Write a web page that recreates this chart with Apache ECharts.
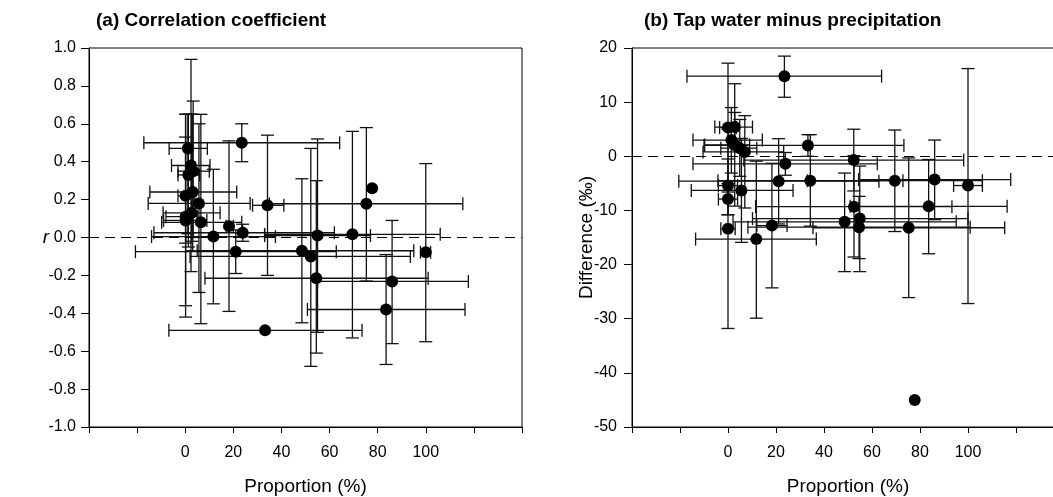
<!DOCTYPE html>
<html>
<head>
<meta charset="utf-8">
<script src="https://cdn.jsdelivr.net/npm/echarts@6/dist/echarts.min.js"></script>
<style>
  html, body { margin: 0; padding: 0; background: #fff; }
  #main { width: 1053px; height: 497px; }
</style>
</head>
<body>
<div id="main"></div>
<script>
// (a) correlation coefficient vs proportion
const leftProp = [1.1, 23.5, 2.4, 1.3, 3.3, 0.15, 3.1, 5.7, 0.15, 0.15, 2.7, 6.5, 11.7, 18.2, 23.9, 34.2, 21, 33.2, 48.5, 52.2, 55, 54.5, 69.5, 86, 83.5, 100, 75.3, 77.7];
const leftPropLo = [-6.7, -17.2, -5.7, -3, -3, -3, -14.7, -15.4, -8, -9, -9.2, -9.8, -14, 17, -13, 28, -20.7, -6.8, 5, 2, 33, 8.2, 33, 55, 50.8, 97.8, 35, 77.7];
const leftPropHi = [9.2, 64.2, 10.3, 6, 10, 4, 21.4, 27, 5, 9, 14.5, 23.5, 37.5, 20, 62, 41, 62.8, 73.5, 95, 93.6, 77, 101, 106, 117.7, 116.3, 102, 115.4, 77.7];
const rValue = [0.47, 0.50, 0.38, 0.33, 0.35, 0.22, 0.24, 0.18, 0.11, 0.09, 0.13, 0.08, 0.005, 0.06, 0.025, 0.17, -0.075, -0.49, -0.07, -0.10, 0.01, -0.215, 0.017, -0.232, -0.38, -0.078, 0.178, 0.26];
const rLo = [0.02, 0.40, -0.18, -0.05, 0.0, -0.36, -0.07, -0.29, -0.42, -0.03, -0.02, -0.455, -0.35, -0.39, -0.02, -0.20, -0.19, -0.49, -0.45, -0.68, -0.50, -0.61, -0.53, -0.56, -0.67, -0.55, -0.23, 0.26];
const rHi = [0.65, 0.60, 0.94, 0.65, 0.72, 0.65, 0.65, 0.60, 0.53, 0.65, 0.65, 0.65, 0.36, 0.51, 0.07, 0.54, 0.04, -0.49, 0.31, 0.47, 0.52, 0.30, 0.56, 0.09, -0.09, 0.39, 0.58, 0.26];

// (b) tap water minus precipitation vs proportion
const rightProp = [23.5, 0, 2.8, 1.4, 2.8, 4.9, 7, 33.3, 23.9, 52.4, 0, 5.6, 21.1, 34.3, 0, 52.5, 48.6, 54.9, 54.6, 18.3, 0, 11.8, 69.5, 86.1, 100, 83.6, 75.3, 77.8];
const rightPropLo = [-17.1, -3.5, -5.5, -14.6, -9.7, -3, -10.4, -10, -14.6, 6.6, -4, -15.3, -20.5, -4.2, -4, 11.5, 2.1, 10.2, 8.3, 12, -3, -13.5, 33, 54.4, 94, 50.9, 35.4, 77.8];
const rightPropHi = [64, 3.5, 10.2, 14.3, 9, 12, 23.2, 73.3, 62.2, 98.2, 4, 27.1, 62.9, 72.9, 4, 93.3, 95.1, 100, 100.9, 24.6, 3, 36.8, 106, 117.8, 106, 116.3, 115.3, 77.8];
const diffValue = [14.8, 5.3, 5.4, 3.0, 2.1, 1.5, 0.8, 2.0, -1.4, -0.7, -5.4, -6.3, -4.6, -4.5, -7.9, -9.3, -12.1, -11.5, -13.1, -12.8, -13.4, -15.3, -4.5, -4.3, -5.4, -9.25, -13.2, -45.0];
const diffLo = [10.9, -6.6, 2.5, -3.1, -9.2, -3.7, -9.55, 0, -3.5, -6.4, -10.8, -15.9, -12.5, -12.9, -10.8, -18.6, -21.3, -21.3, -18.9, -24.3, -31.8, -29.9, -13.9, -11.7, -27.2, -18.0, -26.1, -45.0];
const diffHi = [18.5, 17.2, 8.1, 9.0, 13.4, 6.8, 7.5, 4.0, 0.7, 5.0, -0.5, 3.3, 3.25, 4.0, -5.0, 0.1, -3.1, -1.8, -7.4, -1.3, 5.0, -0.9, 4.85, 3.0, 16.2, -0.6, -0.3, -45.0];

const xTicksShown = [0, 20, 40, 60, 80, 100];

function rows(xs, xl, xh, ys, yl, yh) {
    return xs.map((x, i) => [x, ys[i], xl[i], xh[i], yl[i], yh[i]]);
}

const FONT = "'Liberation Sans', Arial, sans-serif";

function errorBars(params, api) {
    const x = api.value(0), y = api.value(1);
    const xl = api.value(2), xh = api.value(3), yl = api.value(4), yh = api.value(5);
    const cap = 6.5;
    const style = { stroke: "#111", lineWidth: 1.3 };
    const kids = [];
    const seg = (x1, y1, x2, y2) => kids.push({ type: "line", shape: { x1, y1, x2, y2 }, style });
    if (xh > xl) {
        const a = api.coord([xl, y]), b = api.coord([xh, y]);
        seg(a[0], a[1], b[0], b[1]);
        seg(a[0], a[1] - cap, a[0], a[1] + cap);
        seg(b[0], b[1] - cap, b[0], b[1] + cap);
    }
    if (yh > yl) {
        const a = api.coord([x, yl]), b = api.coord([x, yh]);
        seg(a[0], a[1], b[0], b[1]);
        seg(a[0] - cap, a[1], a[0] + cap, a[1]);
        seg(b[0] - cap, b[1], b[0] + cap, b[1]);
    }
    return { type: "group", children: kids };
}

function xAxisFor(idx) {
    return {
        gridIndex: idx, type: "value", min: -40, max: 140, interval: 20,
        name: "Proportion (%)", nameLocation: "middle", nameGap: 50,
        nameTextStyle: { fontSize: 19, color: "#000", fontFamily: FONT },
        axisLine: { onZero: false, lineStyle: { color: "#000", width: 1 } },
        axisTick: { length: 6, lineStyle: { color: "#000" } },
        axisLabel: {
            fontSize: 16, color: "#000", fontFamily: FONT, margin: 18,
            formatter: v => (xTicksShown.indexOf(v) >= 0 ? String(v) : "")
        },
        splitLine: { show: false }
    };
}

const zeroLine = {
    silent: true, symbol: ["none", "none"], label: { show: false },
    lineStyle: { color: "#000", type: [10, 6], width: 1 },
    data: [{ yAxis: 0 }]
};

let dom = document.getElementById("main");
let myChart = echarts.init(dom, null, { renderer: "canvas" });

let option = {
    animation: false,
    title: [
        { text: "(a) Correlation coefficient", left: 91, top: 6,
          textStyle: { fontSize: 19, fontWeight: "bold", color: "#000", fontFamily: FONT } },
        { text: "(b) Tap water minus precipitation", left: 639, top: 6,
          textStyle: { fontSize: 19, fontWeight: "bold", color: "#000", fontFamily: FONT } }
    ],
    grid: [
        { left: 89, top: 48, width: 433, height: 379, show: true, borderColor: "#000", borderWidth: 1,
          outerBoundsMode: "none", containLabel: false },
        { left: 632, top: 48, width: 432, height: 379, show: true, borderColor: "#000", borderWidth: 1,
          outerBoundsMode: "none", containLabel: false }
    ],
    xAxis: [xAxisFor(0), xAxisFor(1)],
    yAxis: [
        {
            gridIndex: 0, type: "value", min: -1, max: 1, interval: 0.2,
            name: "r", nameLocation: "middle", nameRotate: 0, nameGap: 40, nameMoveOverlap: false,
            nameTextStyle: { fontSize: 19, fontStyle: "italic", color: "#000", fontFamily: FONT },
            axisLine: { show: true, onZero: false, lineStyle: { color: "#000", width: 1 } },
            axisTick: { show: true, length: 8, lineStyle: { color: "#000" } },
            axisLabel: { fontSize: 16, color: "#000", fontFamily: FONT, margin: 13, formatter: v => v.toFixed(1) },
            splitLine: { show: false }
        },
        {
            gridIndex: 1, type: "value", min: -50, max: 20, interval: 10,
            name: "Difference (‰)", nameLocation: "middle", nameGap: 36, nameMoveOverlap: false,
            nameTextStyle: { fontSize: 19, color: "#000", fontFamily: FONT },
            axisLine: { show: true, onZero: false, lineStyle: { color: "#000", width: 1 } },
            axisTick: { show: true, length: 8, lineStyle: { color: "#000" } },
            axisLabel: { fontSize: 16, color: "#000", fontFamily: FONT, margin: 15 },
            splitLine: { show: false }
        }
    ],
    series: [
        {
            type: "custom", xAxisIndex: 0, yAxisIndex: 0, renderItem: errorBars,
            encode: { x: [0, 2, 3], y: [1, 4, 5] }, z: 2, silent: true,
            data: rows(leftProp, leftPropLo, leftPropHi, rValue, rLo, rHi)
        },
        {
            type: "scatter", xAxisIndex: 0, yAxisIndex: 0, symbolSize: 12, z: 3,
            itemStyle: { color: "#000", opacity: 1 },
            data: leftProp.map((x, i) => [x, rValue[i]]),
            markLine: zeroLine
        },
        {
            type: "custom", xAxisIndex: 1, yAxisIndex: 1, renderItem: errorBars,
            encode: { x: [0, 2, 3], y: [1, 4, 5] }, z: 2, silent: true,
            data: rows(rightProp, rightPropLo, rightPropHi, diffValue, diffLo, diffHi)
        },
        {
            type: "scatter", xAxisIndex: 1, yAxisIndex: 1, symbolSize: 12, z: 3,
            itemStyle: { color: "#000", opacity: 1 },
            data: rightProp.map((x, i) => [x, diffValue[i]]),
            markLine: zeroLine
        }
    ]
};

myChart.setOption(option);
window.addEventListener("resize", myChart.resize);
</script>
</body>
</html>
